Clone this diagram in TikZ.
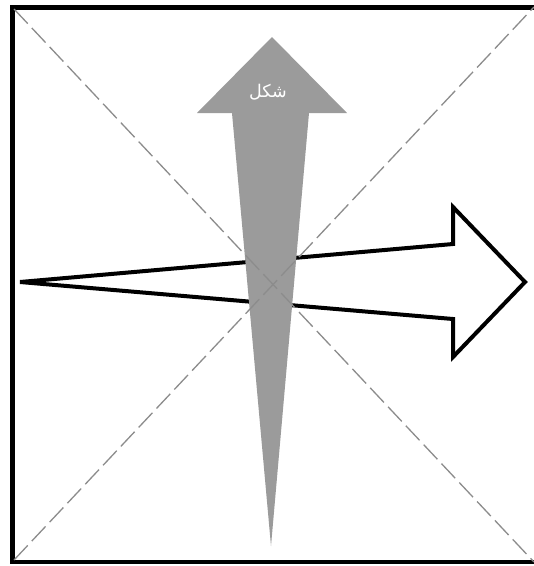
\documentclass[tikz,border=0pt]{standalone}
\usepackage{fontspec}
\newfontfamily\arabicfont[Script=Arabic]{DejaVu Sans}
\TeXXeTstate=1
\definecolor{arrowgray}{RGB}{155,155,155}
\definecolor{diaggray}{RGB}{140,140,140}
\tikzset{
  frameline/.style={line width=4.5pt, black},
  diagline/.style={line width=1.3pt, diaggray, dash pattern=on 20pt off 6pt},
  whitearrow/.style={line width=4pt, black, fill=white, line join=miter},
  grayarrow/.style={fill=arrowgray, draw=none},
}
\begin{document}
\begin{tikzpicture}[x=1pt,y=-1pt]
\useasboundingbox (0,0) rectangle (534,566);
\clip (0,0) rectangle (534,566);
\fill[white] (0,0) rectangle (534,566);
% frame
\coordinate (tl) at (12.5,7.5);
\coordinate (tr) at (536,7.5);
\coordinate (br) at (536,562);
\coordinate (bl) at (12.5,562);
\draw[frameline] (tl) -- (tr) -- (br) -- (bl) -- cycle;
% white arrow
\draw[whitearrow] (20,282) -- (453,244) -- (453,207) -- (525,282) -- (453,357) -- (453,319) -- cycle;
% gray arrow
\fill[grayarrow] (271,546) -- (232,113) -- (197,113) -- (272,37) -- (347,113) -- (309,113) -- cycle;
\node[text=white, font=\arabicfont\fontsize{17.5}{17.5}\selectfont, anchor=center, inner sep=0pt] (label) at (268,92) {\beginR شکل\endR};
% diagonals
\draw[diagline] (14,9) -- (534,562);
\draw[diagline] (14,560) -- (534,7);
\end{tikzpicture}
\end{document}
